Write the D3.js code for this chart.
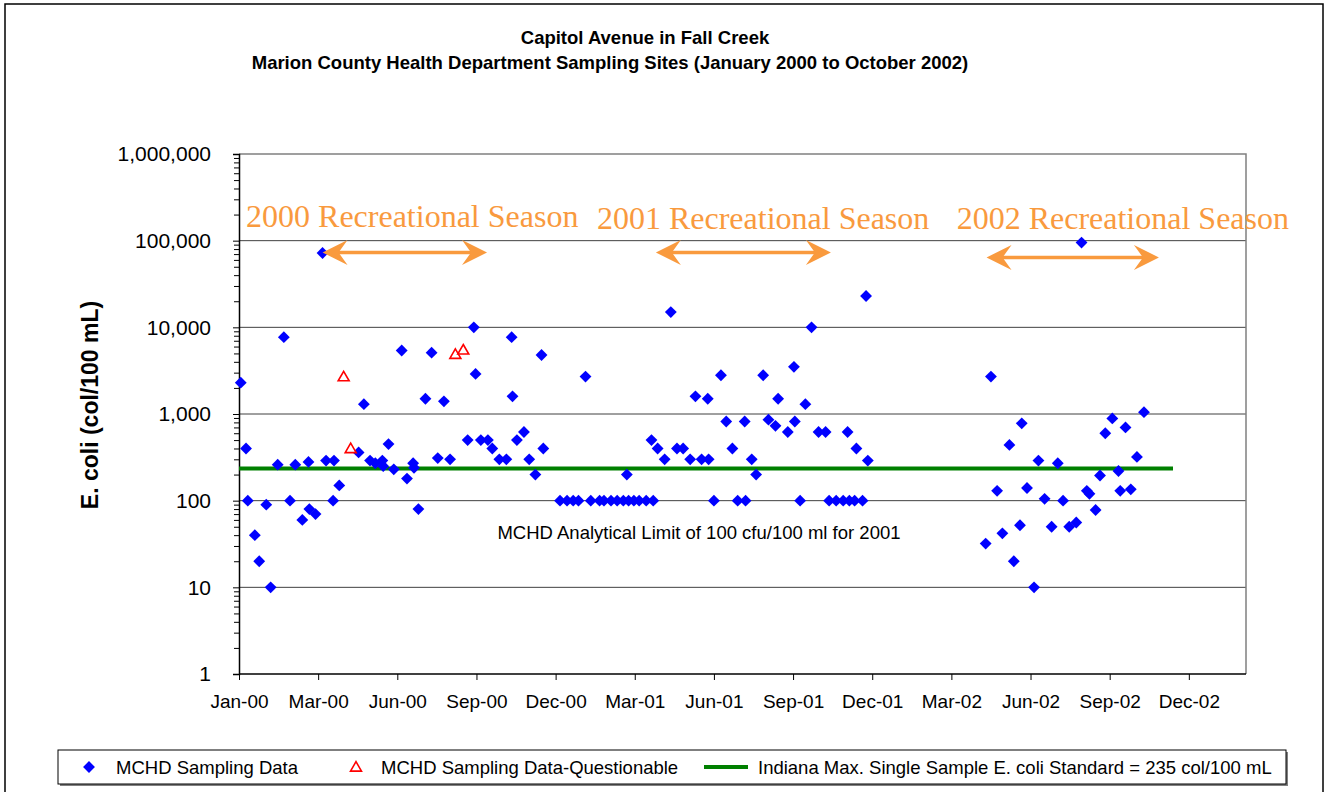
<!DOCTYPE html>
<html>
<head>
<meta charset="utf-8">
<script src="https://cdn.jsdelivr.net/npm/d3@7"></script>
<style>
  body { margin: 0; background: white; }
  svg { display: block; }
</style>
</head>
<body>
<script>
// DATA - sampling results [date, E. coli col/100 mL]
var samplingData = [
  ["2000-01-03", 2300], ["2000-01-09", 400], ["2000-01-11", 100], ["2000-01-19", 40],
  ["2000-01-24", 20], ["2000-02-01", 90], ["2000-02-06", 10], ["2000-02-14", 260],
  ["2000-02-21", 7700], ["2000-02-28", 100], ["2000-03-05", 260], ["2000-03-13", 60],
  ["2000-03-20", 280], ["2000-03-21", 80], ["2000-03-28", 70], ["2000-04-05", 72000],
  ["2000-04-09", 290], ["2000-04-17", 100], ["2000-04-18", 290], ["2000-04-24", 150],
  ["2000-05-16", 360], ["2000-05-22", 1300], ["2000-05-29", 290], ["2000-06-04", 270],
  ["2000-06-12", 290], ["2000-06-13", 250], ["2000-06-19", 450], ["2000-06-25", 230],
  ["2000-07-04", 5400], ["2000-07-10", 180], ["2000-07-17", 270], ["2000-07-18", 240],
  ["2000-07-23", 80], ["2000-07-31", 1500], ["2000-08-07", 5100], ["2000-08-14", 310],
  ["2000-08-21", 1400], ["2000-08-28", 300], ["2000-09-17", 500], ["2000-09-24", 10000],
  ["2000-09-26", 2900], ["2000-10-02", 500], ["2000-10-10", 500], ["2000-10-15", 400],
  ["2000-10-23", 300], ["2000-10-31", 300], ["2000-11-06", 7700], ["2000-11-07", 1600],
  ["2000-11-12", 500], ["2000-11-20", 620], ["2000-11-26", 300], ["2000-12-03", 200],
  ["2000-12-10", 4800], ["2000-12-12", 400], ["2000-12-31", 100],
  ["2001-01-08", 100], ["2001-01-15", 100], ["2001-01-21", 100], ["2001-01-29", 2700],
  ["2001-02-04", 100], ["2001-02-14", 100], ["2001-02-19", 100], ["2001-02-27", 100],
  ["2001-03-06", 100], ["2001-03-13", 100], ["2001-03-17", 200], ["2001-03-19", 100],
  ["2001-03-25", 100], ["2001-03-31", 100], ["2001-04-08", 100], ["2001-04-14", 500],
  ["2001-04-16", 100], ["2001-04-21", 400], ["2001-04-29", 300], ["2001-05-06", 15000],
  ["2001-05-13", 400], ["2001-05-20", 400], ["2001-05-28", 300], ["2001-06-03", 1600],
  ["2001-06-10", 300], ["2001-06-17", 1500], ["2001-06-18", 300], ["2001-06-24", 100],
  ["2001-07-02", 2800], ["2001-07-08", 820], ["2001-07-15", 400], ["2001-07-21", 100],
  ["2001-07-29", 820], ["2001-07-30", 100], ["2001-08-06", 300], ["2001-08-11", 200],
  ["2001-08-19", 2800], ["2001-08-25", 860], ["2001-09-02", 730], ["2001-09-05", 1500],
  ["2001-09-16", 620], ["2001-09-23", 3500], ["2001-09-24", 820], ["2001-09-30", 100],
  ["2001-10-06", 1300], ["2001-10-13", 10000], ["2001-10-21", 620], ["2001-10-29", 620],
  ["2001-11-02", 100], ["2001-11-10", 100], ["2001-11-18", 100], ["2001-11-23", 620],
  ["2001-11-25", 100], ["2001-12-01", 100], ["2001-12-03", 400], ["2001-12-10", 100],
  ["2001-12-14", 23000], ["2001-12-16", 290],
  ["2002-04-29", 32], ["2002-05-05", 2700], ["2002-05-12", 130], ["2002-05-18", 42],
  ["2002-05-26", 440], ["2002-05-31", 20], ["2002-06-07", 52], ["2002-06-09", 780],
  ["2002-06-15", 140], ["2002-06-23", 10], ["2002-06-28", 290], ["2002-07-05", 105],
  ["2002-07-13", 50], ["2002-07-20", 270], ["2002-07-26", 100], ["2002-08-02", 50],
  ["2002-08-10", 56], ["2002-08-16", 95000], ["2002-08-22", 130], ["2002-08-25", 120],
  ["2002-09-01", 78], ["2002-09-06", 195], ["2002-09-12", 600], ["2002-09-20", 890],
  ["2002-09-27", 220], ["2002-09-29", 130], ["2002-10-05", 700], ["2002-10-11", 135],
  ["2002-10-18", 320], ["2002-10-26", 1050]
];

// DATA - questionable samples
var questionableData = [
  ["2000-04-29", 2700], ["2000-05-07", 400], ["2000-09-03", 4900], ["2000-09-12", 5500]
];

// DATA - Indiana standard line
var standardDates = ["2000-01-01", "2002-11-28"];
var standardValue = 235;

// DATA - axes
var axisStart = "2000-01-01";
var axisDays = 1145;
var tickEveryDays = 90;
var yMajorTicks = [1, 10, 100, 1000, 10000, 100000, 1000000];

// DATA - recreational season notes [label, label start, arrow start, arrow end, label value, arrow value]
var seasonNotes = [
  ["2000 Recreational Season", "2000-01-09", "2000-04-05", "2000-10-09", 145000, 73000],
  ["2001 Recreational Season", "2001-02-11", "2001-04-19", "2001-11-04", 135000, 73000],
  ["2002 Recreational Season", "2002-03-27", "2002-04-30", "2002-11-12", 135000, 64000]
];
var limitNote = ["MCHD Analytical Limit of 100 cfu/100 ml for 2001", "2001-06-07", 36];

var legendItems = ["MCHD Sampling Data", "MCHD Sampling Data-Questionable",
  "Indiana Max. Single Sample E. coli Standard = 235 col/100 mL"];

// layout
var W = 1334, H = 792;
var plotLeft = 239, plotRight = 1246, plotTop = 154, plotBottom = 674;
var sans = "'Liberation Sans', Arial, sans-serif";
var orange = "#F99A3E";

var parse = d3.utcParse("%Y-%m-%d");
var start = parse(axisStart);

var svg = d3.select("body").append("svg")
  .attr("width", W).attr("height", H)
  .style("font-family", sans);

// outer chart border
svg.append("rect")
  .attr("x", 5).attr("y", 4).attr("width", 1318).attr("height", 800)
  .style("fill", "white").style("stroke", "black").style("stroke-width", 1.5);

var x = d3.scaleUtc()
  .domain([start, d3.utcDay.offset(start, axisDays)])
  .range([plotLeft, plotRight]);
var y = d3.scaleLog().domain([1, 1000000]).range([plotBottom, plotTop]);

// title
svg.append("text").attr("x", 645).attr("y", 44)
  .attr("text-anchor", "middle").style("font-weight", "bold").style("font-size", "18.5px")
  .text("Capitol Avenue in Fall Creek");
svg.append("text").attr("x", 610).attr("y", 69)
  .attr("text-anchor", "middle").style("font-weight", "bold").style("font-size", "18.5px")
  .text("Marion County Health Department Sampling Sites (January 2000 to October 2002)");

// gridlines
svg.append("g").selectAll("line")
  .data(yMajorTicks.slice(1, -1))
  .enter().append("line")
  .attr("x1", plotLeft).attr("x2", plotRight)
  .attr("y1", function(d){ return y(d); }).attr("y2", function(d){ return y(d); })
  .style("stroke", "#404040").style("stroke-width", 1);

// plot border top / right
svg.append("path")
  .attr("d", "M" + plotLeft + "," + plotTop + "H" + plotRight + "V" + plotBottom)
  .style("fill", "none").style("stroke", "#808080").style("stroke-width", 1.5);

// y axis
var minorTicks = [];
yMajorTicks.slice(0, -1).forEach(function(d){
  for (var k = 2; k <= 9; k++) minorTicks.push(d * k);
});
var yAxis = svg.append("g").attr("transform", "translate(" + plotLeft + ",0)")
  .call(d3.axisLeft(y).tickValues(yMajorTicks).tickFormat(d3.format(","))
    .tickSize(6).tickPadding(22));
var yMinor = svg.append("g").attr("transform", "translate(" + plotLeft + ",0)")
  .call(d3.axisLeft(y).tickValues(minorTicks).tickFormat("").tickSize(5));
yMinor.select(".domain").remove();
yAxis.selectAll("text").style("font-size", "21px").style("font-family", sans);

// x axis
var xTicks = d3.range(0, axisDays, tickEveryDays).map(function(d){ return d3.utcDay.offset(start, d); });
var xAxis = svg.append("g").attr("transform", "translate(0," + plotBottom + ")")
  .call(d3.axisBottom(x).tickValues(xTicks).tickFormat(d3.utcFormat("%b-%y"))
    .tickSize(6).tickPadding(15).tickSizeOuter(0));
xAxis.selectAll("text").style("font-size", "19px").style("font-family", sans);
[yAxis, yMinor, xAxis].forEach(function(g){
  g.selectAll("line").style("stroke", "black");
  g.selectAll(".domain").style("stroke", "black").style("stroke-width", 1.5);
});
xAxis.select(".domain").attr("d", "M" + plotLeft + ",0H" + plotRight);

// y axis title
svg.append("text")
  .attr("transform", "translate(98," + ((plotTop + plotBottom) / 2 - 9) + ") rotate(-90)")
  .attr("text-anchor", "middle").style("font-weight", "bold").style("font-size", "23px")
  .text("E. coli (col/100 mL)");

// standard line
svg.append("path")
  .datum(standardDates)
  .attr("d", d3.line().x(function(d){ return x(parse(d)); }).y(function(){ return y(standardValue); }))
  .style("stroke", "#008000").style("stroke-width", 4).style("fill", "none");

// limit note
svg.append("text")
  .attr("x", x(parse(limitNote[1]))).attr("y", y(limitNote[2]))
  .attr("text-anchor", "middle").style("font-size", "18.5px")
  .text(limitNote[0]);

// sampling diamonds
var diamond = d3.symbol().type(d3.symbolSquare).size(70);
svg.append("g").selectAll("path")
  .data(samplingData)
  .enter().append("path")
  .attr("d", diamond)
  .attr("transform", function(d){ return "translate(" + x(parse(d[0])) + "," + y(d[1]) + ") rotate(45)"; })
  .style("fill", "#0000FF");

// questionable triangles
var triangle = d3.symbol().type(d3.symbolTriangle).size(52);
svg.append("g").selectAll("path")
  .data(questionableData)
  .enter().append("path")
  .attr("d", triangle)
  .attr("transform", function(d){ return "translate(" + x(parse(d[0])) + "," + (y(d[1]) + 1) + ")"; })
  .style("fill", "white").style("stroke", "#FF0000").style("stroke-width", 1.6);

// season labels and arrows
function arrowHead(tipX, tipY, dir) {
  var len = 25, half = 12.5, notch = 16;
  return "M" + tipX + "," + tipY +
    "L" + (tipX + dir * len) + "," + (tipY - half) +
    "L" + (tipX + dir * notch) + "," + tipY +
    "L" + (tipX + dir * len) + "," + (tipY + half) + "Z";
}
var notes = svg.append("g");
seasonNotes.forEach(function(s){
  notes.append("text")
    .attr("x", x(parse(s[1]))).attr("y", y(s[4]))
    .style("font-family", "'Liberation Serif', 'Times New Roman', serif")
    .style("font-size", "32px").style("fill", orange)
    .text(s[0]);
  var x1 = x(parse(s[2])), x2 = x(parse(s[3])), ay = y(s[5]);
  notes.append("line")
    .attr("x1", x1 + 10).attr("x2", x2 - 10).attr("y1", ay).attr("y2", ay)
    .style("stroke", orange).style("stroke-width", 3.5);
  notes.append("path").attr("d", arrowHead(x1, ay, 1)).style("fill", orange);
  notes.append("path").attr("d", arrowHead(x2, ay, -1)).style("fill", orange);
});

// legend
var lg = svg.append("g");
lg.append("rect").attr("x", 60).attr("y", 752).attr("width", 1228).attr("height", 34)
  .style("fill", "#808080");
lg.append("rect").attr("x", 58).attr("y", 750).attr("width", 1228).attr("height", 34)
  .style("fill", "white").style("stroke", "black").style("stroke-width", 1);
var ly = 767;
lg.append("path").attr("d", diamond)
  .attr("transform", "translate(89," + ly + ") rotate(45)").style("fill", "#0000FF");
lg.append("text").attr("x", 116).attr("y", ly + 7).style("font-size", "18.5px").text(legendItems[0]);
lg.append("path").attr("d", triangle)
  .attr("transform", "translate(356," + (ly + 1) + ")")
  .style("fill", "white").style("stroke", "#FF0000").style("stroke-width", 1.6);
lg.append("text").attr("x", 381).attr("y", ly + 7).style("font-size", "18.5px").text(legendItems[1]);
lg.append("line").attr("x1", 704).attr("x2", 748).attr("y1", ly).attr("y2", ly)
  .style("stroke", "#008000").style("stroke-width", 4);
lg.append("text").attr("x", 758).attr("y", ly + 7).style("font-size", "18.5px").text(legendItems[2]);
</script>
</body>
</html>
